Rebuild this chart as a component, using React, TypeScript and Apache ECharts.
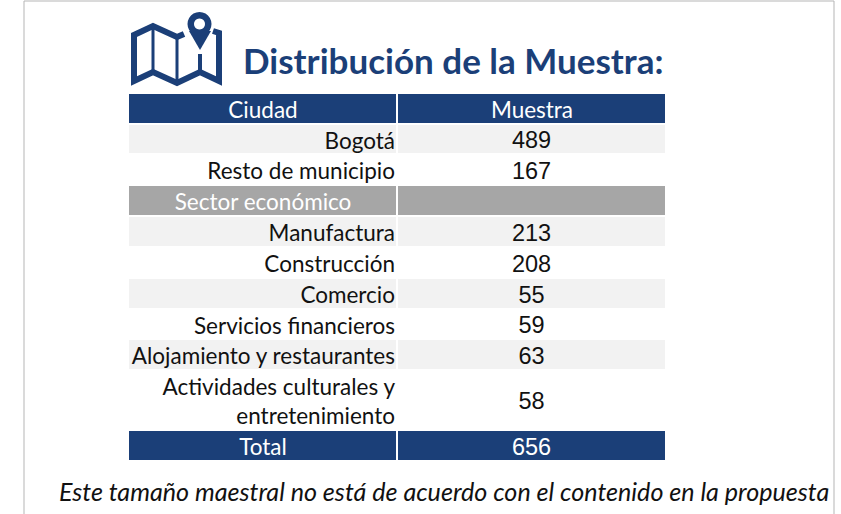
import React, { useEffect, useRef } from "react";
import * as echarts from "echarts";

const titleText = "Distribución de la Muestra:";
const headerLabels = ["Ciudad", "Muestra"];
const sectionLabel = "Sector económico";
const totalLabel = "Total";
const totalValue = "656";
const noteText = "Este tamaño maestral no está de acuerdo con el contenido en la propuesta";
const cityRows = ["Bogotá", "Resto de municipio"];
const cityValues = ["489", "167"];
const sectorRows = [
  "Manufactura",
  "Construcción",
  "Comercio",
  "Servicios financieros",
  "Alojamiento y restaurantes",
  "Actividades culturales y\nentretenimiento",
];
const sectorValues = ["213", "208", "55", "59", "63", "58"];

const NAVY = "#1b3f78";
const GREY = "#a6a6a6";
const BAND = "#f2f2f2";
const LABEL = "Lato, 'Open Sans', sans-serif";
const NUM = "'Liberation Sans', Arial, sans-serif";
const LABEL_SIZE = 22.5;
const NUM_SIZE = 23.5;

const C1 = [129, 396];
const C2 = [398, 665];
const tops = [94, 125, 155, 186, 217, 248, 279, 310, 340, 371, 431];
const bottoms = [123, 153, 184, 215, 246, 277, 308, 338, 369, 429, 460];

const rowText = (x: number, y: number, text: string, fill: string, font: string, size: number, align: string = "center") => ({
  type: "text",
  x,
  y,
  style: { text, fill, fontFamily: font, fontSize: size, align, verticalAlign: "middle", lineHeight: 29 },
});

function buildGraphics() {
  const out: any[] = [];
  const rect = (x0: number, x1: number, i: number, fill: string) =>
    out.push({ type: "rect", shape: { x: x0, y: tops[i], width: x1 - x0, height: bottoms[i] - tops[i] }, style: { fill } });
  const midY = (i: number) => (tops[i] + bottoms[i]) / 2;
  const midX = (c: number[]) => (c[0] + c[1]) / 2;

  out.push({ type: "rect", shape: { x: 24, y: 1, width: 810, height: 520 }, style: { fill: "#fff", stroke: "#b5b5b5", lineWidth: 1 } });

  // map icon
  const stroke = { stroke: NAVY, fill: "none", lineWidth: 6, lineJoin: "miter", lineCap: "butt" };
  out.push({ type: "polyline", shape: { points: [[184, 34], [177, 37], [153, 26], [134, 35], [134, 81], [153, 72], [177, 83], [200, 72], [219, 81], [219, 33], [213, 31]] }, style: stroke });
  out.push({ type: "line", shape: { x1: 153, y1: 26, x2: 153, y2: 72 }, style: { stroke: NAVY, lineWidth: 3 } });
  out.push({ type: "line", shape: { x1: 177, y1: 37, x2: 177, y2: 83 }, style: { stroke: NAVY, lineWidth: 3 } });
  out.push({ type: "line", shape: { x1: 200, y1: 54, x2: 200, y2: 72 }, style: { stroke: NAVY, lineWidth: 4 } });
  out.push({ type: "polygon", shape: { points: [[189, 31], [211, 31], [200, 50]] }, style: { fill: NAVY } });
  out.push({ type: "ring", shape: { cx: 199.5, cy: 24, r: 12, r0: 5.5 }, style: { fill: NAVY } });

  out.push({ type: "text", x: 243, y: 60, style: { text: titleText, fill: NAVY, fontFamily: LABEL, fontWeight: 700, fontSize: 35, verticalAlign: "middle" } });

  rect(C1[0], C1[1], 0, NAVY);
  rect(C2[0], C2[1], 0, NAVY);
  out.push(rowText(263, midY(0) + 1, headerLabels[0], "#fff", LABEL, LABEL_SIZE));
  out.push(rowText(532, midY(0) + 1, headerLabels[1], "#fff", LABEL, LABEL_SIZE));

  cityRows.forEach((label, i) => {
    const r = 1 + i;
    if (i % 2 === 0) { rect(C1[0], C1[1], r, BAND); rect(C2[0], C2[1], r, BAND); }
    out.push(rowText(C1[1] - 1, midY(r) + 1, label, "#111", LABEL, LABEL_SIZE, "right"));
    out.push(rowText(midX(C2), midY(r) + 1, cityValues[i], "#111", NUM, NUM_SIZE));
  });

  rect(C1[0], C1[1], 3, GREY);
  rect(C2[0], C2[1], 3, GREY);
  out.push(rowText(263, midY(3) + 1, sectionLabel, "#fff", LABEL, LABEL_SIZE));

  sectorRows.forEach((label, i) => {
    const r = 4 + i;
    if (i % 2 === 0 && r < 10) { rect(C1[0], C1[1], r, BAND); rect(C2[0], C2[1], r, BAND); }
    out.push(rowText(C1[1] - 1, midY(r) + 1, label, "#111", LABEL, LABEL_SIZE, "right"));
    out.push(rowText(midX(C2), midY(r) + 1, sectorValues[i], "#111", NUM, NUM_SIZE));
  });

  rect(C1[0], C1[1], 10, NAVY);
  rect(C2[0], C2[1], 10, NAVY);
  out.push(rowText(263, midY(10) + 1, totalLabel, "#fff", LABEL, LABEL_SIZE));
  out.push(rowText(midX(C2), midY(10) + 1, totalValue, "#fff", NUM, NUM_SIZE));

  out.push({ type: "text", x: 59, y: 491, style: { text: noteText, fill: "#111", fontFamily: LABEL, fontStyle: "italic", fontSize: 25.1, verticalAlign: "middle" } });
  return out;
}

export default function App() {
  const ref = useRef<HTMLDivElement>(null);
  useEffect(() => {
    document.body.style.margin = "0";
    const chart = echarts.init(ref.current!, undefined, { renderer: "svg" });
    chart.setOption({ animation: false, backgroundColor: "#fff", graphic: { elements: buildGraphics() } });
    return () => chart.dispose();
  }, []);
  return <div ref={ref} style={{ width: 841, height: 514 }} />;
}
